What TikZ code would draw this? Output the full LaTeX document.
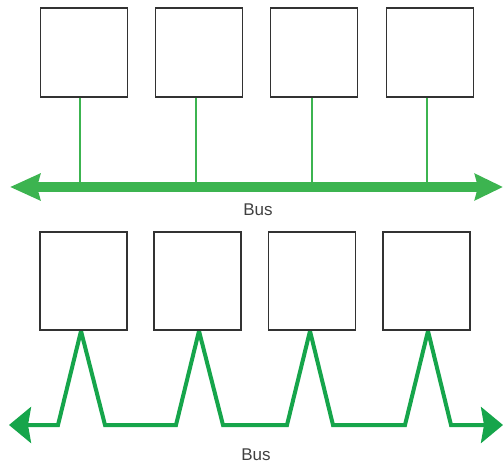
\documentclass[tikz,border=0pt]{standalone}
\usepackage{fontspec}
\setmainfont{Liberation Sans}
\usetikzlibrary{arrows.meta}
\definecolor{busA}{RGB}{60,180,80}
\definecolor{busB}{RGB}{22,165,75}
\definecolor{boxc}{RGB}{50,50,50}
\begin{document}
\begin{tikzpicture}[x=1pt,y=-1pt,
  unit/.style={draw=boxc,line width=1.8pt,fill=white,minimum width=87pt,inner sep=0pt},
  drop/.style={draw=busA,line width=1.8pt},
  mainbus/.style={draw=busA,line width=10pt,{Stealth[length=30pt,width=26pt,inset=3pt]}-{Stealth[length=28pt,width=26pt,inset=3pt]}},
  wave/.style={draw=busB,line width=4pt,line join=miter,{Stealth[length=22pt,width=36pt,inset=3pt]}-{Stealth[length=22pt,width=36pt,inset=3pt]}},
  buslabel/.style={font=\fontsize{17}{19}\selectfont,text=black!75}]
\useasboundingbox (0,0) rectangle (504,468);
% top row
\node[unit,minimum height=89pt] (t1) at (84,52.5) {};
\node[unit,minimum height=89pt] (t2) at (199,52.5) {};
\node[unit,minimum height=89pt] (t3) at (314,52.5) {};
\node[unit,minimum height=89pt] (t4) at (430,52.5) {};
\coordinate (tl) at (10,187);
\coordinate (tr) at (503,187);
\draw[mainbus] (tl) -- (tr);
\foreach \i/\x in {1/80,2/196,3/312,4/427}{
  \coordinate (tb\i) at (\x,187);
  \draw[drop] (t\i.south -| tb\i) -- (tb\i);
}
\node[buslabel] (bl1) at (258,210) {Bus};
% bottom row: bus first, boxes drawn over the peaks
\coordinate (bl) at (9,425);
\coordinate (br) at (503,425);
\coordinate (p1) at (81,331);
\coordinate (p2) at (199,331);
\coordinate (p3) at (310,331);
\coordinate (p4) at (428,331);
\draw[wave] (bl) -- (58,425) -- (p1) -- (105,425) -- (176,425) -- (p2) -- (223,425) -- (287,425) -- (p3) -- (333,425) -- (405,425) -- (p4) -- (451,425) -- (br);
\node[unit,minimum height=98pt] (b1) at (83.5,281) {};
\node[unit,minimum height=98pt] (b2) at (197.5,281) {};
\node[unit,minimum height=98pt] (b3) at (312,281) {};
\node[unit,minimum height=98pt] (b4) at (426.5,281) {};
\node[buslabel] (bl2) at (256,455) {Bus};
\end{tikzpicture}
\end{document}
